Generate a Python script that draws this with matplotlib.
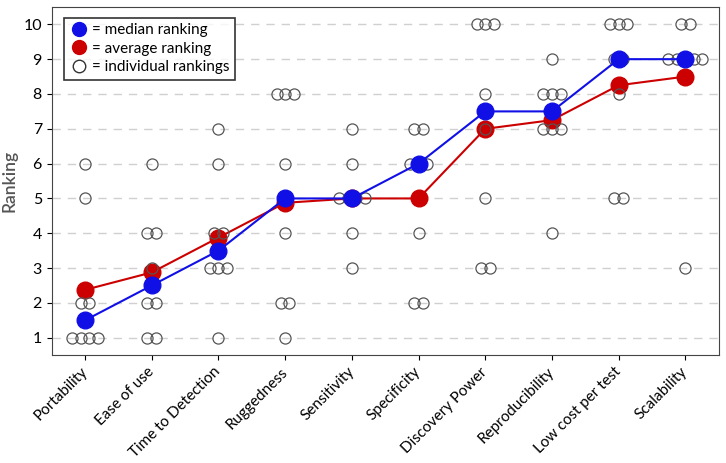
import numpy as np
import matplotlib
matplotlib.use("Agg")
import matplotlib.pyplot as plt
from matplotlib.lines import Line2D
from collections import Counter

plt.rcParams['font.family'] = ['Lato', 'DejaVu Sans']

# criteria and the individual rankings given by each rater (8 raters)
categories = ["Portability", "Ease of use", "Time to Detection", "Ruggedness",
              "Sensitivity", "Specificity", "Discovery Power", "Reproducibility",
              "Low cost per test", "Scalability"]
rankings = [
    [1, 1, 1, 1, 2, 2, 5, 6],
    [1, 1, 2, 2, 3, 4, 4, 6],
    [1, 3, 3, 3, 4, 4, 6, 7],
    [1, 2, 2, 4, 6, 8, 8, 8],
    [3, 4, 5, 5, 5, 5, 6, 7],
    [2, 2, 4, 6, 6, 6, 7, 7],
    [3, 3, 5, 7, 8, 10, 10, 10],
    [4, 7, 7, 7, 8, 8, 8, 9],
    [5, 5, 8, 9, 9, 10, 10, 10],
    [3, 9, 9, 9, 9, 9, 10, 10],
]

medians = [np.median(r) for r in rankings]
means = [np.mean(r) for r in rankings]
x = np.arange(len(categories))

fig = plt.figure(figsize=(7.26, 4.63), dpi=100)
ax = fig.add_axes([0.0712, 0.233, 0.9188, 0.752])

# grid
for yv in range(1, 11):
    ax.axhline(yv, color="#d0d0d0", lw=1, ls=(0, (6, 5)), zorder=0)

# average ranking
ax.plot(x, means, color="#cc0000", lw=1.5, marker="o", ms=12,
        mec="#cc0000", mfc="#cc0000", zorder=2)

# individual rankings, spread side by side when they repeat
step = 0.128
for i, r in enumerate(rankings):
    for val, n in Counter(r).items():
        offs = (np.arange(n) - (n - 1) / 2) * step
        ax.plot(i + offs, [val] * n, ls="none", marker="o", ms=8,
                mfc="none", mec="#555555", mew=0.9, zorder=3)

# median ranking
ax.plot(x, medians, color="#1010e6", lw=1.5, marker="o", ms=12,
        mec="#1010e6", mfc="#1010e6", zorder=4)

ax.set_xlim(-0.5, 9.5)
ax.set_ylim(0.5, 10.5)
ax.set_yticks(range(1, 11))
ax.set_xticks(x)
ax.set_xticklabels(categories, rotation=45, ha="right", va="center",
                   rotation_mode="anchor", fontsize=11)
ax.tick_params(axis="x", pad=7)
ax.tick_params(axis="y", labelsize=11.5)
ax.set_ylabel("Ranking", fontsize=12.5, color="#555555", fontweight="semibold",
              labelpad=4)
for s in ax.spines.values():
    s.set_color("#444444")

handles = [
    Line2D([], [], ls="none", marker="o", ms=10, mfc="#1010e6", mec="#1010e6"),
    Line2D([], [], ls="none", marker="o", ms=10, mfc="#cc0000", mec="#cc0000"),
    Line2D([], [], ls="none", marker="o", ms=9, mfc="none", mec="#333333"),
]
leg = ax.legend(handles, ["= median ranking", "= average ranking", "= individual rankings"],
                loc="upper left", fontsize=11, frameon=True, fancybox=False,
                handletextpad=0.3, handlelength=1.2, borderpad=0.35,
                labelspacing=0.3, borderaxespad=0.6, bbox_to_anchor=(0.005, 0.995))
leg.get_frame().set_edgecolor("black")
leg.get_frame().set_linewidth(1.2)

fig.savefig("out.png", dpi=100)
